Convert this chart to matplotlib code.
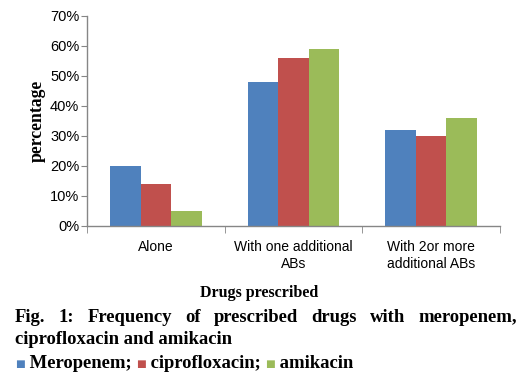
import matplotlib
matplotlib.use("Agg")
import matplotlib.pyplot as plt
import numpy as np
from matplotlib.offsetbox import TextArea, HPacker, AnchoredOffsetbox

categories = ["Alone", "With one additional\nABs", "With 2or more\nadditional ABs"]
series_names = ["Meropenem", "ciprofloxacin", "amikacin"]
meropenem = [20, 48, 32]
ciprofloxacin = [14, 56, 30]
amikacin = [5, 59, 36]
yticks = [0, 10, 20, 30, 40, 50, 60, 70]

colors = ["#4F81BD", "#C0504D", "#9BBB59"]
axis_color = "#868686"
sans = "Liberation Sans"
serif = "Liberation Serif"

fig = plt.figure(figsize=(5.31, 3.8), dpi=100)
ax = fig.add_axes([0.1638, 0.4053, 0.7778, 0.5526])

x = np.arange(len(categories))
w = 0.222
for i, vals in enumerate([meropenem, ciprofloxacin, amikacin]):
    ax.bar(x + (i - 1) * w, vals, width=w, color=colors[i], zorder=2)

ax.set_xlim(-0.5, 2.5)
ax.set_ylim(0, 70)
ax.set_yticks(yticks)
ax.set_yticklabels([f"{t}%" for t in yticks], fontsize=10.5, family=sans)
ax.set_xticks(x)
ax.set_xticklabels(categories, fontsize=10, family=sans, linespacing=1.25)
ax.tick_params(axis="x", which="major", length=0, pad=10)
ax.set_xticks(np.arange(-0.5, 3, 1), minor=True)
ax.tick_params(axis="x", which="minor", length=5, color=axis_color, direction="out")
ax.tick_params(axis="y", length=4, color=axis_color, direction="out", pad=1.5)

for s in ["top", "right"]:
    ax.spines[s].set_visible(False)
for s in ["left", "bottom"]:
    ax.spines[s].set_color(axis_color)
    ax.spines[s].set_linewidth(1)

ax.set_ylabel("percentage", family=serif, fontweight="bold", fontsize=12.7, labelpad=3)
fig.text(259 / 531, 1 - 293 / 380, "Drugs prescribed", family=serif, fontweight="bold",
         fontsize=11.5, ha="center", va="center")

# justified caption line
cap_size = 13.4
renderer = fig.canvas.get_renderer()
words = "Fig. 1: Frequency of prescribed drugs with meropenem,".split()
x0, x1 = 15 / 531, 517 / 531
y1 = 1 - 317 / 380
texts = [fig.text(0, y1, wd, family=serif, fontweight="bold", fontsize=cap_size,
                  va="center", ha="left") for wd in words]
widths = [t.get_window_extent(renderer).width / fig.bbox.width for t in texts]
gap = (x1 - x0 - sum(widths)) / (len(words) - 1)
pos = x0
for t, wd in zip(texts, widths):
    t.set_x(pos)
    pos += wd + gap

fig.text(x0, 1 - 340 / 380, "ciprofloxacin and amikacin", family=serif,
         fontweight="bold", fontsize=cap_size, va="center", ha="left")

# legend line
parts = []
for name, c, sep in zip(series_names, colors, [";", ";", ""]):
    parts.append(TextArea("■", textprops=dict(color=c, fontsize=7.5, family="DejaVu Sans")))
    parts.append(TextArea(" " + name + sep + " ", textprops=dict(family=serif, fontweight="bold",
                                                               fontsize=cap_size)))
box = HPacker(children=parts, align="baseline", pad=0, sep=0)
anch = AnchoredOffsetbox(loc="center left", child=box, pad=0, frameon=False,
                         bbox_to_anchor=(x0, 1 - 363 / 380), bbox_transform=fig.transFigure,
                         borderpad=0)
fig.add_artist(anch)

fig.savefig("out.png", dpi=100)
